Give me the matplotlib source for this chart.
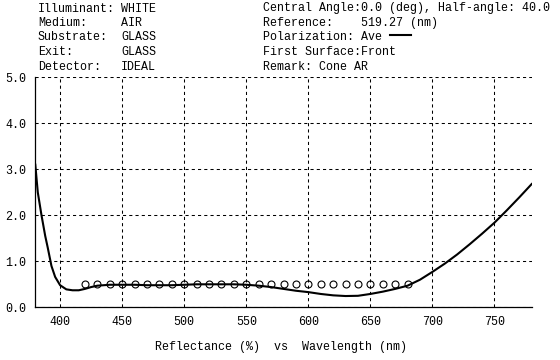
import matplotlib
matplotlib.use("Agg")
import matplotlib.pyplot as plt
from matplotlib.lines import Line2D

# design curve (reflectance %, average polarization)
wavelength = [380, 382, 385, 388, 390, 393, 396, 400, 405, 410, 415, 420, 425,
              430, 440, 450, 460, 470, 480, 490, 500, 510, 520, 530, 540, 550,
              560, 570, 580, 590, 600, 610, 620, 630, 640, 650, 660, 670, 680,
              690, 700, 710, 720, 730, 740, 750, 760, 770, 780]
reflectance = [3.10, 2.50, 2.00, 1.55, 1.30, 0.90, 0.66, 0.48, 0.39, 0.37, 0.37,
               0.40, 0.44, 0.47, 0.49, 0.49, 0.49, 0.48, 0.48, 0.48, 0.49, 0.50,
               0.50, 0.50, 0.50, 0.49, 0.47, 0.44, 0.40, 0.36, 0.33, 0.29, 0.26,
               0.245, 0.25, 0.29, 0.34, 0.40, 0.47, 0.60, 0.77, 0.95, 1.15, 1.37,
               1.60, 1.84, 2.11, 2.39, 2.68]

# target points
target_wl = [420, 430, 440, 450, 460, 470, 480, 490, 500, 510, 520, 530, 540,
             550, 560, 570, 580, 590, 600, 610, 620, 630, 640, 650, 660, 670, 680]
target_r = [0.5] * len(target_wl)

x_ticks = [400, 450, 500, 550, 600, 650, 700, 750]
y_ticks = [0, 1, 2, 3, 4, 5]

left_labels = ["Illuminant:", "Medium:", "Substrate:", "Exit:", "Detector:"]
left_values = ["WHITE", "AIR", "GLASS", "GLASS", "IDEAL"]
right_lines = ["Central Angle:0.0 (deg), Half-angle: 40.0",
               "Reference:    519.27 (nm)",
               "Polarization: Ave",
               "First Surface:Front",
               "Remark: Cone AR"]

FONT = "Liberation Mono"
FS = 8.4
W, H = 560, 360


def px(x, y):
    return x / W, 1 - y / H


fig = plt.figure(figsize=(W / 100, H / 100), dpi=100)
ax = fig.add_axes([35.3 / W, 1 - 307.3 / H, (531.7 - 35.3) / W, (307.3 - 77.3) / H])

ax.plot(wavelength, reflectance, color="black", lw=1.5, zorder=3)
ax.plot(target_wl, target_r, ls="none", marker="o", ms=5.0, mfc="none",
        mec="black", mew=0.8, zorder=4)

ax.set_xlim(380, 780)
ax.set_ylim(0, 5)
ax.set_xticks(x_ticks)
ax.set_xticklabels([str(v) for v in x_ticks])
ax.set_yticks(y_ticks)
ax.set_yticklabels([f"{v:.1f}" for v in y_ticks])
ax.tick_params(length=0, labelsize=FS, pad=6.3)
for lab in ax.get_xticklabels() + ax.get_yticklabels():
    lab.set_fontfamily(FONT)

ax.grid(True, color="black", lw=0.75, ls=(0, (3, 3)))
ax.spines["top"].set_visible(False)
ax.spines["right"].set_visible(False)
ax.spines["left"].set_linewidth(0.9)
ax.spines["bottom"].set_linewidth(0.9)

# header block
rows = [8.5, 23, 37.5, 52, 66.5]
for y, lab, val, rt in zip(rows, left_labels, left_values, right_lines):
    fig.text(*px(38, y), lab, family=FONT, fontsize=FS, va="center")
    fig.text(*px(121, y), val, family=FONT, fontsize=FS, va="center")
    fig.text(*px(263, y), rt, family=FONT, fontsize=FS, va="center")

x0, y0 = px(390, 35)
x1, _ = px(411, 35)
fig.add_artist(Line2D([x0, x1], [y0, y0], color="black", lw=1.5,
                      transform=fig.transFigure))

fig.text(*px(155, 346.7), "Reflectance (%)  vs  Wavelength (nm)",
         family=FONT, fontsize=FS, va="center")

fig.savefig("out.png", dpi=100)
